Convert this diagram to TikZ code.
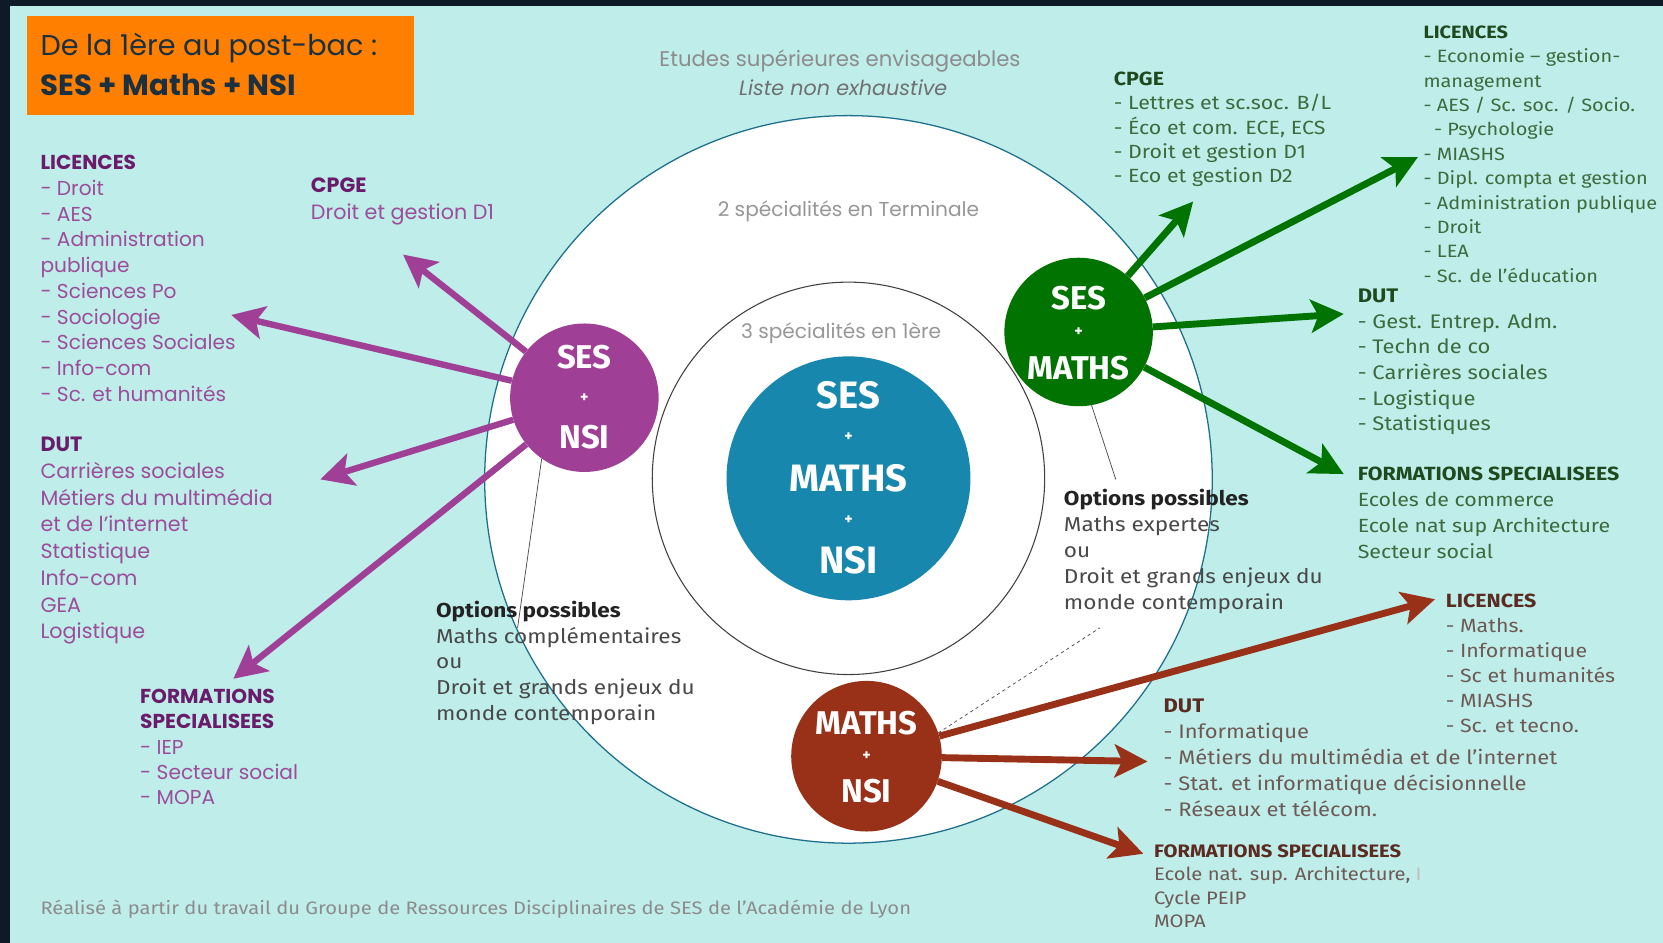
\documentclass[tikz,border=0pt]{standalone}
\usepackage{fontspec}
\setmainfont{Poppins}
\newfontfamily\din{Fira Sans}
\newfontfamily\dinw[FakeStretch=1.12]{Fira Sans}
\usetikzlibrary{arrows.meta}
\definecolor{bgdark}{HTML}{0E1A28}
\definecolor{panel}{HTML}{BFEDEA}
\definecolor{orangeb}{HTML}{FF8000}
\definecolor{titletx}{HTML}{1B3040}
\definecolor{graytx}{HTML}{8C8C8C}
\definecolor{purp}{HTML}{A03F96}
\definecolor{ptx}{HTML}{9C4D99}
\definecolor{phd}{HTML}{6A1B6A}
\definecolor{grn}{HTML}{007300}
\definecolor{gtx}{HTML}{3D6B3D}
\definecolor{ghd}{HTML}{1E4A1E}
\definecolor{redb}{HTML}{993118}
\definecolor{rtx}{HTML}{6E5A55}
\definecolor{rhd}{HTML}{5B2A20}
\definecolor{blueC}{HTML}{1887AE}
\definecolor{tealline}{HTML}{1D6F8C}
\definecolor{opthd}{HTML}{222222}
\definecolor{opttx}{HTML}{484848}
\newcommand\fsz[2]{\fontsize{#1}{#2}\selectfont}
\begin{document}
\begin{tikzpicture}[x=1pt,y=-1pt,
  blk/.style={anchor=north west, inner sep=0pt, align=left},
  one/.style={anchor=west, inner sep=0pt},
  lab/.style={inner sep=0pt, text=white, font=\din\bfseries\fsz{31}{31}},
  biglab/.style={inner sep=0pt, text=white, font=\din\bfseries\fsz{36}{36}},
  plus/.style={inner sep=0pt, text=white, font=\din\bfseries\fsz{15}{15}},
  tipshape/.style={-{Stealth[length=31pt,width=31pt,inset=7pt]}},
  parr/.style={draw=purp, line width=6pt, tipshape},
  garr/.style={draw=grn, line width=6.5pt, tipshape},
  rarr/.style={draw=redb, line width=6.5pt, tipshape},
  thinl/.style={draw=black!70, line width=0.7pt}]
\useasboundingbox (0,0) rectangle (1568,889);
\fill[bgdark] (0,0) rectangle (1568,889);
\fill[panel] (9,6) rectangle (1568,889);

% title box
\node[fill=orangeb, minimum width=365pt, minimum height=93pt, inner sep=0pt] (tbox) at (207.5,61.5) {};
\node[one, text=titletx, font=\fsz{27}{30}] (t1) at (38,45) {De la 1ère au post-bac :};
\node[one, text=titletx, font=\bfseries\fsz{27.5}{30}] (t2) at (38,80) {SES + Maths + NSI};

% header
\node[text=graytx, font=\fsz{20}{22}, inner sep=0pt] (h1) at (792,58) {Etudes supérieures envisageables};
\node[text=graytx!80!black, font=\itshape\fsz{19.5}{22}, inner sep=0pt] (h2) at (795,83) {Liste non exhaustive};

% circles
\node[circle, minimum size=686pt, fill=white, draw=tealline, line width=1.2pt, inner sep=0pt] (outer) at (800,452) {};
\node[circle, minimum size=370pt, draw=black!75, line width=1pt, inner sep=0pt] (inner) at (800,451) {};
\node[text=graytx!90, font=\fsz{19}{20}, inner sep=0pt] (term) at (800,199) {2 spécialités en Terminale};
\node[text=graytx!90, font=\fsz{19}{20}, inner sep=0pt] (prem) at (793,314) {3 spécialités en 1ère};
\node[circle, minimum size=230pt, fill=blueC, inner sep=0pt] (core) at (800,451) {};
\node[biglab] (c1) at (800,373) {SES};
\node[plus] (c2) at (800,412) {+};
\node[biglab] (c3) at (800,451) {MATHS};
\node[plus] (c4) at (800,490) {+};
\node[biglab] (c5) at (800,528) {NSI};

% small circles
\node[circle, minimum size=140pt, fill=purp, inner sep=0pt] (pn) at (551,375) {};
\node[circle, minimum size=140pt, fill=grn, inner sep=0pt] (gm) at (1017,313) {};
\node[circle, minimum size=142pt, fill=redb, inner sep=0pt] (mn) at (817,713) {};

% tips
\coordinate (pt1) at (380,240);
\coordinate (pt2) at (218,297);
\coordinate (pt3) at (302,452);
\coordinate (pt4) at (220,640);
\coordinate (gt1) at (1125,190);
\coordinate (gt2) at (1337,148);
\coordinate (gt3) at (1267,296);
\coordinate (gt4) at (1267,447);
\coordinate (rt1) at (1353,565);
\coordinate (rt2) at (1082,718);
\coordinate (rt3) at (1078,805);

\draw[parr] (pn) -- (pt1);
\draw[parr] (pn) -- (pt2);
\draw[parr] (pn) -- (pt3);
\draw[parr] (pn) -- (pt4);
\draw[garr] (gm) -- (gt1);
\draw[garr] (gm) -- (gt2);
\draw[garr] (gm) -- (gt3);
\draw[garr] (gm) -- (gt4);
\draw[rarr] (mn) -- (rt1);
\draw[rarr] (mn) -- (rt2);
\draw[rarr] (mn) -- (rt3);

% circle labels
\node[lab] (p1) at (551,337) {SES};
\node[plus] (p2) at (551,375) {+};
\node[lab] (p3) at (551,412) {NSI};
\node[lab] (g1) at (1017,281) {SES};
\node[plus] (g2) at (1017,313) {+};
\node[lab] (g3) at (1017,347) {MATHS};
\node[lab] (m1) at (817,682) {MATHS};
\node[plus] (m2) at (817,713) {+};
\node[lab] (m3) at (817,746) {NSI};

% thin connectors
\coordinate (lk1) at (488,592);
\coordinate (lk2) at (1052,452);
\coordinate (lk3) at (1037,592);
\draw[thinl] (pn.235) -- (lk1);
\draw[thinl] (gm.280) -- (lk2);
\draw[thinl, dashed] (mn.18) -- (lk3);

% options
\node[blk, text=opttx, font=\dinw\fsz{19}{24.3}] (optL) at (411,564.8) {\strut{\color{opthd}\bfseries Options possibles}\\Maths complémentaires\\ou\\Droit et grands enjeux du\\monde contemporain};
\node[blk, text=opttx, font=\dinw\fsz{19}{24.5}] (optR) at (1003,459.6) {\strut{\color{opthd}\bfseries Options possibles}\\Maths expertes\\ou\\Droit et grands enjeux du\\monde contemporain};

% purple blocks
\node[blk, text=ptx, font=\fsz{19}{24.3}] (plic) at (38,142.6) {\strut{\color{phd}\bfseries LICENCES}\\- Droit\\- AES\\- Administration\\publique\\- Sciences Po\\- Sociologie\\- Sciences Sociales\\- Info-com\\- Sc. et humanités};
\node[blk, text=ptx, font=\fsz{19.5}{25}] (pcpge) at (293,164.2) {\strut{\color{phd}\bfseries CPGE}\\Droit et gestion D1};
\node[blk, text=ptx, font=\fsz{19.5}{25.2}] (pdut) at (38,408) {\strut{\color{phd}\bfseries DUT}\\Carrières sociales\\Métiers du multimédia\\et de l’internet\\Statistique\\Info-com\\GEA\\Logistique};
\node[blk, text=ptx, font=\fsz{19}{23.6}] (pform) at (132,647) {\strut{\color{phd}\bfseries FORMATIONS}\\{\color{phd}\bfseries SPECIALISEES}\\- IEP\\- Secteur social\\- MOPA};

% green blocks
\node[blk, text=gtx, font=\dinw\fsz{18}{23}] (gcpge) at (1050,64.2) {\strut{\color{ghd}\bfseries CPGE}\\- Lettres et sc.soc. B/L\\- Éco et com. ECE, ECS\\- Droit et gestion D1\\- Eco et gestion D2};
\node[blk, text=gtx, font=\dinw\fsz{16.8}{23}] (glic) at (1342,19.9) {\strut{\color{ghd}\bfseries LICENCES}\\- Economie – gestion-\\management\\- AES / Sc. soc. / Socio.\\\ \ - Psychologie\\- MIASHS\\- Dipl. compta et gestion\\- Administration publique\\- Droit\\- LEA\\- Sc. de l’éducation};
\node[blk, text=gtx, font=\dinw\fsz{18.5}{24.2}] (gdut) at (1280,268.2) {\strut{\color{ghd}\bfseries DUT}\\- Gest. Entrep. Adm.\\- Techn de co\\- Carrières sociales\\- Logistique\\- Statistiques};
\node[blk, text=gtx, font=\dinw\fsz{18}{24.3}] (gform) at (1280,436.3) {\strut{\color{ghd}\bfseries FORMATIONS SPECIALISEES}\\Ecoles de commerce\\Ecole nat sup Architecture\\Secteur social};

% red blocks
\node[blk, text=rtx, font=\dinw\fsz{18}{23.6}] (rlic) at (1363,555.8) {\strut{\color{rhd}\bfseries LICENCES}\\- Maths.\\- Informatique\\- Sc et humanités\\- MIASHS\\- Sc. et tecno.};
\node[blk, text=rtx, font=\dinw\fsz{18.5}{24.5}] (rdut) at (1097,654.9) {\strut{\color{rhd}\bfseries DUT}\\- Informatique\\- Métiers du multimédia et de l’internet\\- Stat. et informatique décisionnelle\\- Réseaux et télécom.};
\node[blk, text=rtx, font=\dinw\fsz{17}{22}] (rform) at (1088,792.9) {\strut{\color{rhd}\bfseries FORMATIONS SPECIALISEES}\\Ecole nat. sup. Architecture, {\color{rtx!40}I}\\Cycle PEIP\\MOPA};

% footer
\node[one, text=graytx, font=\dinw\fsz{17}{20}] (foot) at (38,857) {Réalisé à partir du travail du Groupe de Ressources Disciplinaires de SES de l’Académie de Lyon};
\end{tikzpicture}
\end{document}
